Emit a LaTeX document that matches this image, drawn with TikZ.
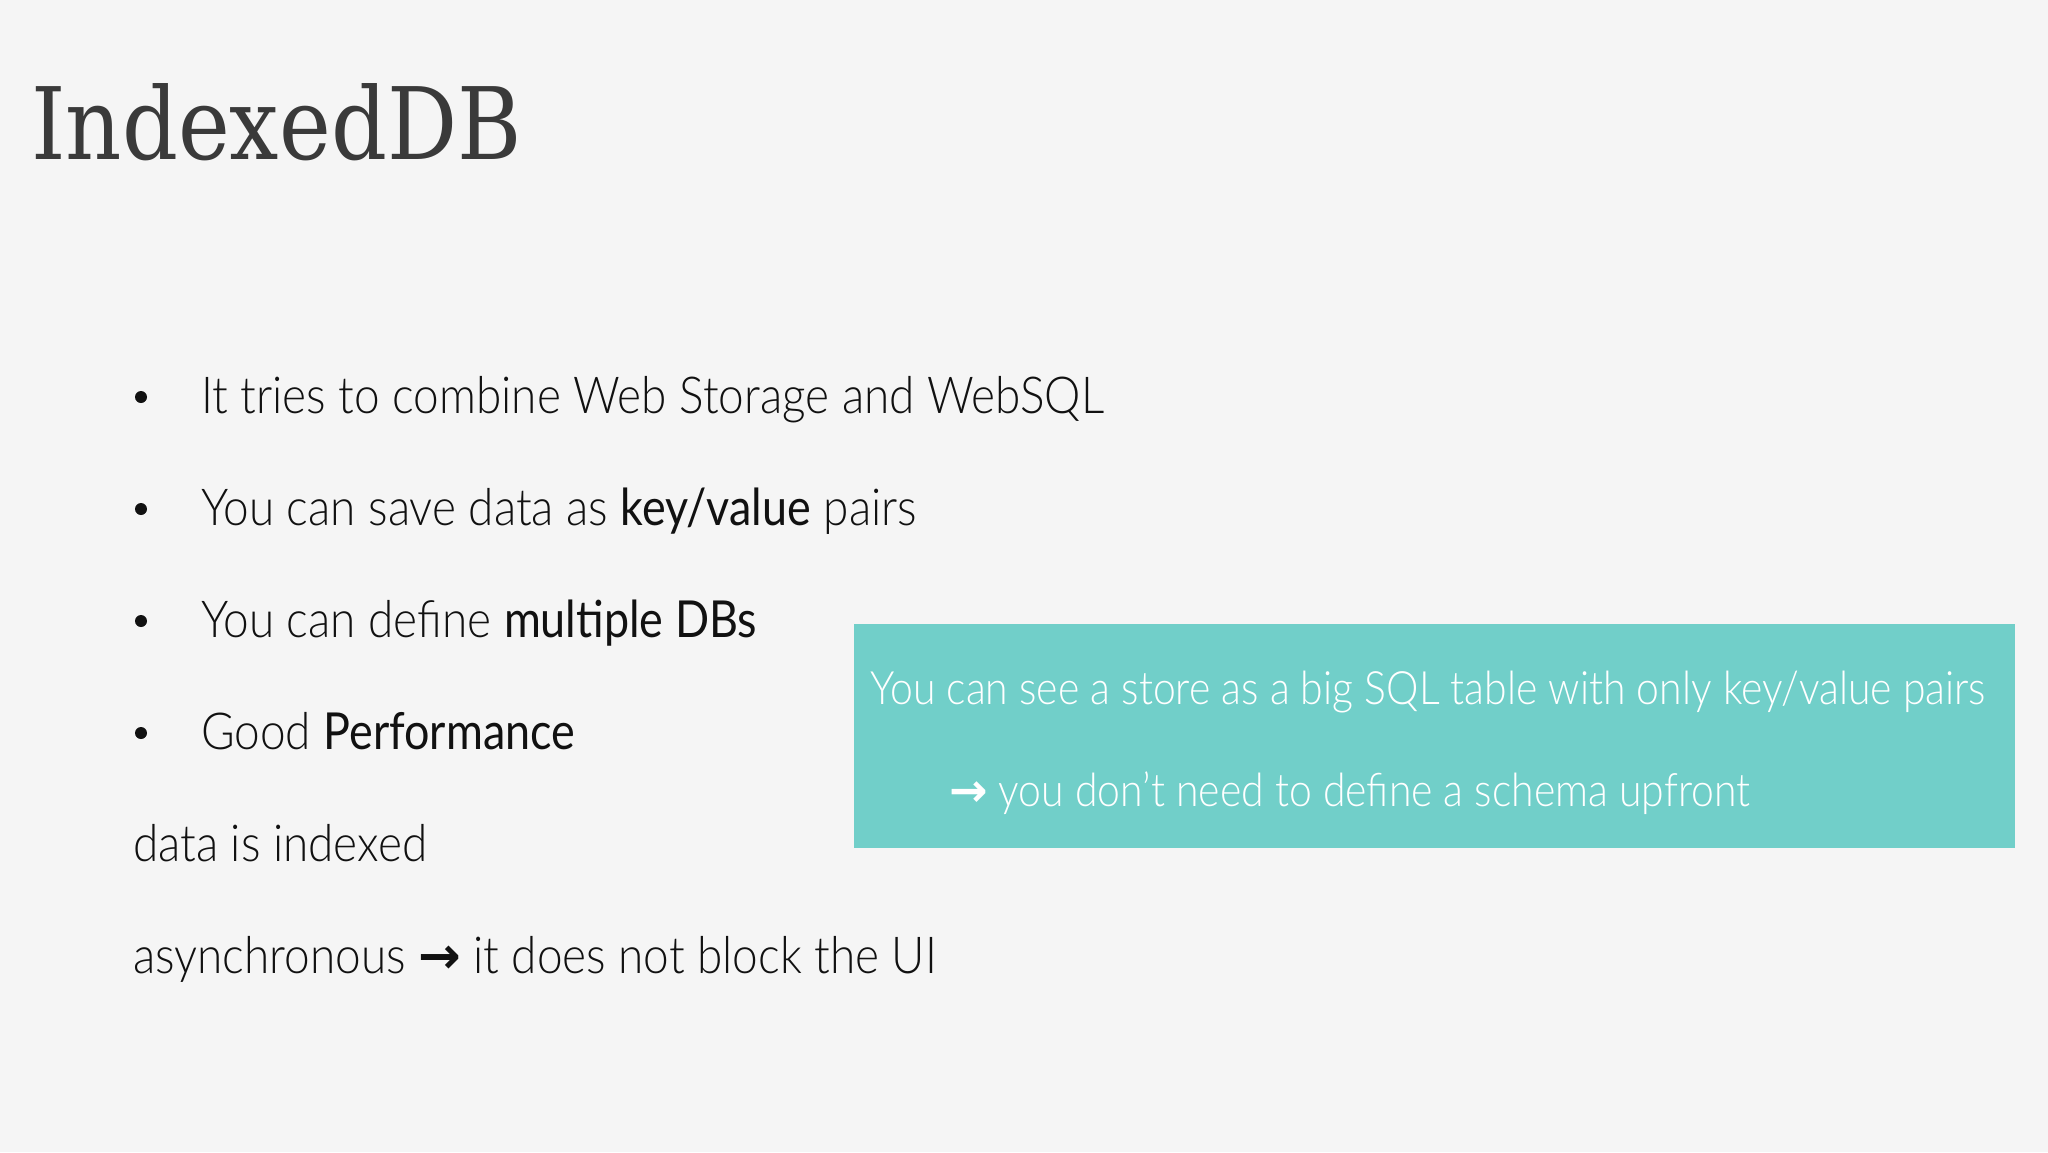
\documentclass[tikz,border=0pt]{standalone}
\usepackage{fontspec}
\setmainfont{Lato}
\newfontfamily\latolight{Lato Light}[FakeStretch=0.9]
\newfontfamily\latolightb{Lato Light}[FakeStretch=0.89]
\newfontfamily\latoreg{Lato}[FakeStretch=0.88]
\newfontfamily\titlefont{DejaVu Serif}[FakeStretch=0.875]
\newfontfamily\arrowfont{DejaVu Sans}
\definecolor{bgc}{HTML}{F5F5F5}
\definecolor{titlec}{HTML}{3A3A3A}
\definecolor{textc}{HTML}{111111}
\definecolor{boxc}{HTML}{71CFC9}
\tikzset{
  txt/.style={anchor=base west, inner sep=0pt, text=textc, font=\latolight\fontsize{51}{60}\selectfont},
  boxtxt/.style={anchor=base west, inner sep=0pt, text=white, font=\latolightb\fontsize{46}{55}\selectfont},
  bulletdot/.style={circle, fill=textc, inner sep=0pt, minimum size=12pt},
}
\begin{document}
\begin{tikzpicture}[x=1pt,y=-1pt]
\useasboundingbox (0,0) rectangle (2048,1152);
\fill[bgc] (0,0) rectangle (2048,1152);
\node[anchor=base west, inner sep=0pt, text=titlec, font=\titlefont\fontsize{100}{110}\selectfont] (title) at (31,159) {IndexedDB};
% bullets
\node[bulletdot] (b1) at (141,397) {};
\node[bulletdot] (b2) at (141,509) {};
\node[bulletdot] (b3) at (141,621) {};
\node[bulletdot] (b4) at (141,733) {};
\node[txt] (l1) at (201,413) {It tries to combine Web Storage and WebSQL};
\node[txt] (l2) at (201,525) {You can save data as {\latoreg key/value} pairs};
\node[txt] (l3) at (201,637) {You can define {\latoreg multiple DBs}};
\node[txt] (l4) at (201,749) {Good {\latoreg Performance}};
\node[txt] (l5) at (133,861) {data is indexed};
\node[txt] (l6) at (133,973) {asynchronous {\arrowfont\bfseries →} it does not block the UI};
% box
\fill[boxc] (854,624) rectangle (2015,848);
\node[boxtxt] (t1) at (870,704) {You can see a store as a big SQL table with only key/value pairs};
\node[boxtxt] (t2) at (949,806) {{\arrowfont\bfseries →} you don’t need to define a schema upfront};
\end{tikzpicture}
\end{document}
